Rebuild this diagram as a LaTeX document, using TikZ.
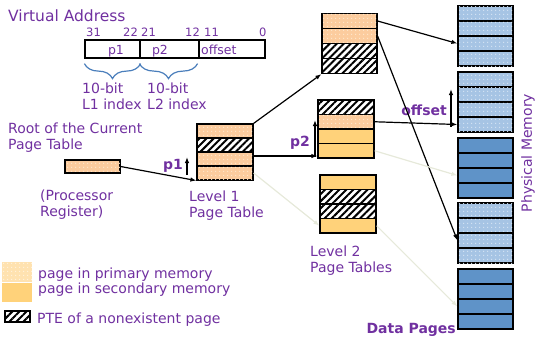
\documentclass[tikz,border=0pt]{standalone}
\usepackage{fontspec}
\setmainfont{DejaVu Sans}
\usetikzlibrary{patterns, patterns.meta, arrows.meta, decorations.pathreplacing}
\definecolor{vpurple}{RGB}{112,48,160}
\definecolor{peach}{RGB}{252,204,158}
\definecolor{peachdot}{RGB}{255,232,205}
\definecolor{peachlt}{RGB}{255,226,176}
\definecolor{secyellow}{RGB}{255,210,122}
\definecolor{ltblue}{RGB}{166,196,228}
\definecolor{bluedot}{RGB}{214,229,244}
\definecolor{dkblue}{RGB}{95,147,200}
\definecolor{bracecol}{RGB}{74,126,187}
\definecolor{faint}{RGB}{230,233,218}

\begin{document}
\begin{tikzpicture}[x=1pt, y=-1pt,
    txt/.style={text=vpurple, inner sep=0pt, align=left, font=\fontsize{14}{16.5}\selectfont},
    bits/.style={text=vpurple, inner sep=0pt, font=\fontsize{11.5}{13}\selectfont},
    idxlbl/.style={text=vpurple, inner sep=0pt, font=\fontsize{14}{16}\selectfont\bfseries},
    field/.style={draw, line width=1.2pt, minimum height=18pt, inner sep=0pt},
    row/.style={draw, line width=1.2pt, minimum width=56pt, inner sep=0pt},
    prim/.style={fill=peach, postaction={pattern={Dots[distance=4pt,radius=0.8pt]}, pattern color=peachdot}},
    sec/.style={fill=secyellow},
    hatch/.style={fill=white, postaction={pattern={Lines[angle=45,distance=5pt,line width=2pt]}}},
    onpage/.style={fill=ltblue, postaction={pattern={Dots[distance=4pt,radius=0.8pt]}, pattern color=bluedot}},
    offpage/.style={fill=dkblue},
    ptr/.style={line width=1.2pt, -{Latex[length=6pt,width=4.5pt]}},
    ghost/.style={ptr, draw=faint},
    brc/.style={draw=bracecol, line width=1.2pt, decorate, decoration={brace, mirror, amplitude=15pt}}
]
\useasboundingbox (0,0) rectangle (535,338);

% virtual address
\node[txt, font=\fontsize{15.5}{18}\selectfont, anchor=base west] (vaddr) at (8,21) {Virtual Address};
\node[bits, anchor=base west] (b31) at (86,36) {31};
\node[bits, anchor=base west] (b22) at (123,36) {22};
\node[bits, anchor=base west] (b21) at (141,36) {21};
\node[bits, anchor=base west] (b12) at (185,36) {12};
\node[bits, anchor=base west] (b11) at (204,36) {11};
\node[bits, anchor=base west] (b0) at (259,36) {0};

\node[field, minimum width=55pt] (fp1) at (112.5,49) {};
\node[field, minimum width=59pt] (fp2) at (169.5,49) {};
\node[field, minimum width=66pt] (foff) at (232,49) {};
\node[bits, font=\fontsize{12.5}{14}\selectfont, anchor=base] (tp1) at (116,54) {p1};
\node[bits, font=\fontsize{12.5}{14}\selectfont, anchor=base] (tp2) at (160,54) {p2};
\node[bits, font=\fontsize{12.5}{14}\selectfont, anchor=base west] (toff) at (201,54) {offset};

\draw[brc] ([yshift=-5pt]fp1.south west) -- ([yshift=-5pt]fp1.south east);
\draw[brc] ([yshift=-5pt]fp2.south west) -- ([yshift=-5pt,xshift=-2pt]fp2.south east);
\node[txt, anchor=north west] (l1idx) at (82,82.4) {10-bit\\L1 index};
\node[txt, anchor=north west] (l2idx) at (147,82.4) {10-bit\\L2 index};

% root register
\node[txt, anchor=north west] (root) at (8,122.4) {Root of the Current\\Page Table};
\node[row, prim, minimum width=55pt, minimum height=13pt] (reg) at (92.5,166.5) {};
\node[txt, anchor=north west] (proc) at (40,189.4) {(Processor\\Register)};

% level 1 table
\foreach \s [count=\i] in {prim,hatch,prim,prim}
    \node[row, \s, minimum height=14pt] (l1\i) at (225,{117+14*\i}) {};
\node[txt, anchor=north west] (lvl1) at (189,190.4) {Level 1\\Page Table};
\node[idxlbl, anchor=base east] (p1) at (183,169) {p1};
\coordinate (p1lo) at (187,175);
\coordinate (p1hi) at (187,157);
\draw[ptr] (p1lo) -- (p1hi);

% level 2 tables
\foreach \s [count=\i] in {prim,prim,hatch,hatch}
    \node[row, \s, minimum width=55pt, minimum height=15pt] (l2a\i) at (349.5,{6+15*\i}) {};
\foreach \s [count=\i] in {hatch,prim,sec,sec}
    \node[row, \s, minimum height=14.5pt] (l2b\i) at (346,{92.75+14.5*\i}) {};
\foreach \s [count=\i] in {sec,hatch,hatch,sec}
    \node[row, \s, minimum height=14.5pt] (l2c\i) at (348,{167.75+14.5*\i}) {};
\node[txt, anchor=north west] (lvl2) at (310,245.4) {Level 2\\Page Tables};
\node[idxlbl, anchor=base east] (p2) at (310,146) {p2};
\coordinate (p2lo) at (315,157);
\coordinate (p2hi) at (315,120);
\draw[ptr] (p2lo) -- (p2hi);

% data pages
\foreach \s [count=\i] in {onpage,onpage,onpage,onpage}
    \node[row, \s, minimum width=55pt, minimum height=15pt] (pg1\i) at (485.5,{-1.5+15*\i}) {};
\foreach \s [count=\i] in {onpage,onpage,onpage,onpage}
    \node[row, \s, minimum width=55pt, minimum height=15pt] (pg2\i) at (485.5,{64.5+15*\i}) {};
\foreach \s [count=\i] in {offpage,offpage,offpage,offpage}
    \node[row, \s, minimum width=55pt, minimum height=15pt] (pg3\i) at (485.5,{130.5+15*\i}) {};
\foreach \s [count=\i] in {onpage,onpage,onpage,onpage}
    \node[row, \s, minimum width=55pt, minimum height=15pt] (pg4\i) at (485.5,{195.5+15*\i}) {};
\foreach \s [count=\i] in {offpage,offpage,offpage,offpage}
    \node[row, \s, minimum width=55pt, minimum height=15pt] (pg5\i) at (485.5,{261.5+15*\i}) {};
\node[idxlbl, anchor=base east] (offs) at (447,115) {offset};
\coordinate (offlo) at (451,127);
\coordinate (offhi) at (451,89);
\draw[ptr] (offlo) -- (offhi);
\node[idxlbl, anchor=base east] (dpages) at (456,333) {Data Pages};
\node[txt, rotate=90] (phys) at (528,153) {Physical Memory};

% pointers
\draw[ptr] (reg.east) -- (l14.south west);
\draw[ptr] (l11.north east) -- (l2a4.south west);
\draw[ptr] ([yshift=3pt]l13.east) -- ([yshift=3pt]l13.east -| l2b4.west);
\draw[ghost] (l14.east) -- (l2c4.west);
\draw[ptr] (l2a1.east) -- (pg13.west);
\draw[ptr] (l2a2.east) -- (pg43.west);
\draw[ptr] (l2b2.east) -- (pg24.west);
\draw[ghost] (l2b4.east) -- (pg33.west);
\draw[ghost] (l2c4.east) -- (pg53.west);

% legend
\node[inner sep=0pt, minimum width=30pt, minimum height=20pt, fill=peachlt,
      postaction={pattern={Dots[distance=4pt,radius=0.8pt]}, pattern color=white!60!peachlt}] (lgprim) at (17,272) {};
\node[inner sep=0pt, minimum width=30pt, minimum height=19pt, sec] (lgsec) at (17,292.5) {};
\node[row, hatch, minimum width=25pt, minimum height=11pt] (lghatch) at (17.5,316.5) {};
\node[txt, anchor=base west] (lgt1) at (38,278) {page in primary memory};
\node[txt, anchor=base west] (lgt2) at (38,293) {page in secondary memory};
\node[txt, anchor=base west] (lgt3) at (37,323) {PTE of a nonexistent page};
\end{tikzpicture}
\end{document}
